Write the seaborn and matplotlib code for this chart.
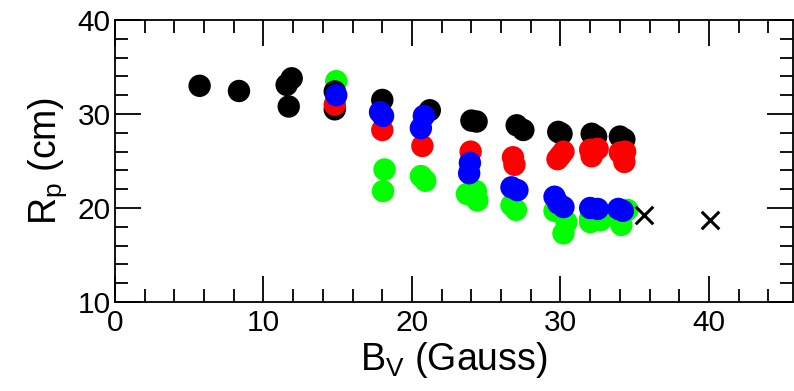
import seaborn as sb
import matplotlib.pyplot as plt
import matplotlib.ticker as mt
import pandas as pd

# DATA #
black_x = [5.7, 8.35, 11.56, 11.9, 11.7, 14.8, 14.8, 18.0, 21.2, 24.0, 24.35,
           27.05, 27.5, 29.85, 30.07, 32.1, 32.4, 34.0, 34.3]
black_y = [33.0, 32.45, 33.1, 33.8, 30.8, 32.4, 30.5, 31.5, 30.4, 29.3, 29.2,
           28.8, 28.3, 28.1, 27.9, 27.9, 27.6, 27.6, 27.3]

red_x = [14.8, 18.0, 20.7, 23.95, 26.8, 26.9, 29.8, 30.2, 30.0, 32.0, 32.1,
         32.5, 34.0, 34.3, 34.35]
red_y = [31.0, 28.3, 26.6, 26.0, 25.4, 24.6, 25.2, 26.0, 25.6, 26.2, 25.5,
         26.3, 25.9, 24.9, 26.0]

green_x = [14.9, 18.15, 18.05, 20.6, 20.9, 23.7, 24.3, 24.4, 26.7, 27.0,
           29.6, 30.4, 30.2, 32.0, 32.7, 32.0, 34.1, 34.5]
green_y = [33.5, 24.1, 21.8, 23.4, 22.9, 21.5, 21.8, 20.8, 20.3, 19.8,
           19.7, 18.5, 17.3, 18.9, 18.7, 18.5, 18.2, 19.8]

blue_x = [14.9, 17.85, 18.05, 20.8, 20.6, 23.9, 23.85, 26.7, 27.1, 29.6,
          30.2, 29.85, 32.0, 32.5, 33.9, 34.2]
blue_y = [32.0, 30.2, 29.8, 29.8, 28.5, 24.8, 23.7, 22.2, 21.9, 21.2,
          20.1, 20.5, 20.0, 19.9, 19.9, 19.7]

cross_x = [35.6, 40.05]
cross_y = [19.3, 18.7]

# BUILDING DATAFRAME (row order = drawing order) #
groups = [("green", green_x, green_y), ("black", black_x, black_y),
          ("red", red_x, red_y), ("blue", blue_x, blue_y)]
df = pd.concat([pd.DataFrame({"Bv": gx, "Rp": gy, "set": name})
                for name, gx, gy in groups], ignore_index=True)
dfx = pd.DataFrame({"Bv": cross_x, "Rp": cross_y})

# PLOTTING #
sb.set_style("ticks", {"axes.edgecolor": "black", "text.color": "black",
                       "axes.labelcolor": "black", "xtick.color": "black",
                       "ytick.color": "black"})
plt.rcParams["font.family"] = ["Liberation Sans", "DejaVu Sans"]
plt.rcParams["mathtext.fontset"] = "custom"
plt.rcParams["mathtext.rm"] = "Liberation Sans"

fig = plt.figure(figsize=(7.94, 3.91), dpi=100)
ax = fig.add_axes([0.1448, 0.2276, 0.8540, 0.7212])

palette = {"green": "#00ff00", "black": "#000000", "red": "#ff0000", "blue": "#0000ff"}
sb.scatterplot(data=df, x="Bv", y="Rp", hue="set", palette=palette,
               s=260, linewidth=0, legend=False, ax=ax)
sb.scatterplot(data=dfx, x="Bv", y="Rp", marker="x", color="black",
               s=160, linewidth=2.2, ax=ax)

ax.set_xlim(0, 45.66)
ax.set_ylim(10, 40)
ax.xaxis.set_major_locator(mt.MultipleLocator(10))
ax.xaxis.set_minor_locator(mt.MultipleLocator(2))
ax.yaxis.set_major_locator(mt.MultipleLocator(10))
ax.yaxis.set_minor_locator(mt.MultipleLocator(2))
ax.tick_params(which="both", direction="in", top=True, right=True,
               width=1.3, labelsize=21.5)
ax.tick_params(axis="x", pad=5)
ax.tick_params(axis="y", pad=3)
ax.tick_params(which="major", length=19)
ax.tick_params(which="minor", length=9.5)
for sp in ax.spines.values():
    sp.set_linewidth(1.3)

ax.set_xlabel(r"B$_\mathregular{V}$ (Gauss)", fontsize=27, labelpad=2)
ax.set_ylabel(r"R$_\mathregular{p}$ (cm)", fontsize=27, labelpad=6)

plt.savefig("out.png", dpi=100)
